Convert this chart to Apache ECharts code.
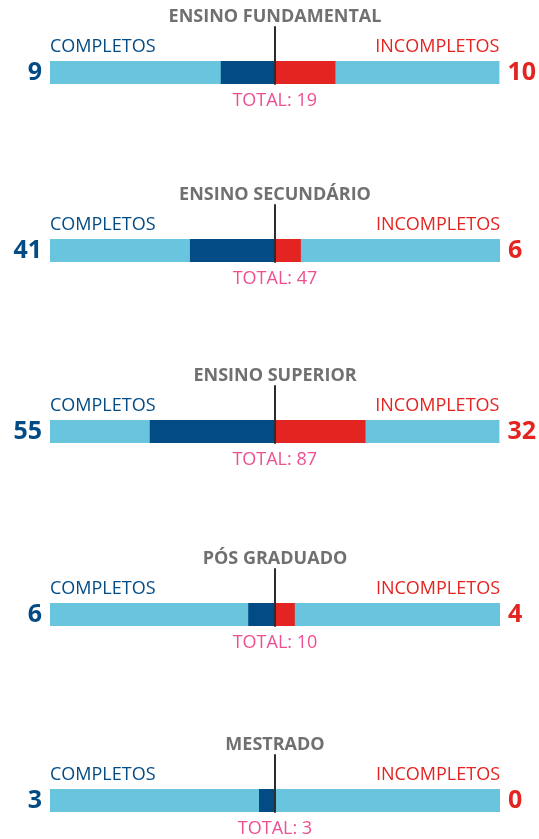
<!DOCTYPE html>
<html>
<head>
<meta charset="utf-8">
<script src="https://cdn.jsdelivr.net/npm/echarts@6/dist/echarts.min.js"></script>
<style>
  html, body { margin: 0; padding: 0; background: #fff; }
  #chart { width: 539px; height: 839px; }
</style>
</head>
<body>
<div id="chart"></div>
<script>
// dados
const niveis = ['ENSINO FUNDAMENTAL', 'ENSINO SECUNDÁRIO', 'ENSINO SUPERIOR', 'PÓS GRADUADO', 'MESTRADO']
const completos = [9, 41, 55, 6, 3]
const incompletos = [10, 6, 32, 4, 0]
const totais = [19, 47, 87, 10, 3]
// comprimento das barras (% de cada metade)
const barraCompletos = [24.0, 37.8, 55.6, 11.9, 7.1]
const barraIncompletos = [27.0, 11.5, 40.4, 8.8, 0]

const AZUL_CLARO = '#69c4de'
const AZUL = '#034b85'
const VERMELHO = '#e42421'
const ROSA = '#ee4f91'
const CINZA = '#707070'
const FONT = '"Open Sans", sans-serif'

const topos = [61, 239, 420, 603, 789]
const barH = 23
const linhaAcima = 34

const hidden = {
  axisLine: { show: false },
  axisTick: { show: false },
  axisLabel: { show: false },
  splitLine: { show: false },
}

const grid = [], xAxis = [], yAxis = [], series = []

niveis.forEach((nivel, i) => {
  // grid da linha central + título
  const gA = grid.length
  grid.push({ left: 50, right: 39, top: topos[i] - linhaAcima, height: linhaAcima + barH })
  xAxis.push({
    gridIndex: gA, type: 'value', min: -100, max: 100, position: 'top',
    name: nivel, nameLocation: 'middle', nameGap: 10,
    nameTextStyle: { color: CINZA, fontSize: 18, fontWeight: 'bold', fontFamily: FONT, verticalAlign: 'middle' },
    ...hidden,
  })
  yAxis.push({
    gridIndex: gA, type: 'category', data: [''], z: 10,
    axisLine: { show: true, onZero: true, lineStyle: { color: '#2d2d2d', width: 2 } },
    axisTick: { show: false }, axisLabel: { show: false }, splitLine: { show: false },
  })

  // grid das barras
  const gB = grid.length
  grid.push({ left: 50, right: 39, top: topos[i], height: barH })
  const xB = xAxis.length
  xAxis.push({
    gridIndex: gB, type: 'value', min: -100, max: 100,
    name: 'TOTAL: ' + totais[i], nameLocation: 'middle', nameGap: 17,
    nameTextStyle: { color: ROSA, fontSize: 18, fontFamily: FONT, verticalAlign: 'middle' },
    ...hidden,
  })
  const yB = yAxis.length
  yAxis.push({
    gridIndex: gB, type: 'category', position: 'left', data: [String(completos[i])],
    name: 'COMPLETOS', nameLocation: 'end', nameGap: 14,
    nameTextStyle: { color: AZUL, fontSize: 18, fontFamily: FONT, align: 'left', verticalAlign: 'middle' },
    axisLine: { show: false, onZero: false }, axisTick: { show: false }, splitLine: { show: false },
    axisLabel: { color: AZUL, fontSize: 25, fontWeight: 'bold', fontFamily: FONT, margin: 8 },
  })
  yAxis.push({
    gridIndex: gB, type: 'category', position: 'right', data: [String(incompletos[i])],
    name: 'INCOMPLETOS', nameLocation: 'end', nameGap: 14,
    nameTextStyle: { color: VERMELHO, fontSize: 18, fontFamily: FONT, align: 'right', verticalAlign: 'middle' },
    axisLine: { show: false, onZero: false }, axisTick: { show: false }, splitLine: { show: false },
    axisLabel: { color: VERMELHO, fontSize: 25, fontWeight: 'bold', fontFamily: FONT, margin: 8 },
  })

  series.push({
    name: 'Completos', type: 'bar', xAxisIndex: xB, yAxisIndex: yB, stack: 'n' + i,
    data: [-barraCompletos[i]], barWidth: barH,
    itemStyle: { color: AZUL },
    showBackground: true, backgroundStyle: { color: AZUL_CLARO },
  })
  series.push({
    name: 'Incompletos', type: 'bar', xAxisIndex: xB, yAxisIndex: yB, stack: 'n' + i,
    data: [barraIncompletos[i]], barWidth: barH,
    itemStyle: { color: VERMELHO },
  })
})

const chart = echarts.init(document.getElementById('chart'))
chart.setOption({
  animation: false,
  grid, xAxis, yAxis, series,
})
window.addEventListener('resize', () => chart.resize())
</script>
</body>
</html>
